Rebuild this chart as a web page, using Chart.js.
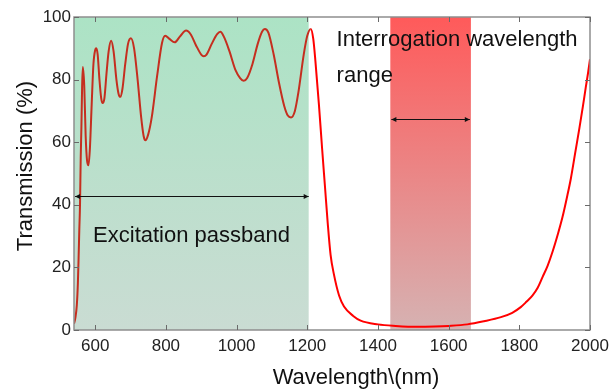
<!DOCTYPE html>
<html><head><meta charset="utf-8">
<script src="https://cdn.jsdelivr.net/npm/chart.js@4.4.1/dist/chart.umd.min.js"></script>
<style>html,body{margin:0;padding:0;background:#fff;overflow:hidden}#wrap{width:609px;height:391px;position:relative}</style>
</head><body><div id="wrap"><canvas id="c" width="609" height="391"></canvas></div>
<script>
const wavelength = [540,544,548,551,553,555,557,559,561,563,565,569,573,577,581,585,590,595,600,603,607,612,617,621,626,632,638,645,652,660,666,671,677,685,693,701,710,720,730,737,742,750,760,775,789,798,810,825,840,857,870,885,900,907,915,930,945,954,965,980,997,1010,1020,1030,1045,1060,1072,1080,1090,1105,1120,1135,1145,1154,1165,1175,1190,1200,1210,1217,1223,1233,1242,1250,1258,1266,1275,1290,1304,1330,1351,1400,1450,1511,1560,1600,1653,1700,1748,1780,1804,1820,1837,1852,1866,1880,1894,1910,1922,1935,1946,1958,1970,1980,1988,1995,2000];
const transmission = [2,4,8,15,23,32,40,55,65,78,84,78,62,54,52.6,58,72,85,89.5,90,88,80,74,72.5,74,82,89,92.4,89,80,75.5,74.5,77,85,91.5,93.2,90,80,68,62,60.6,62.5,68,81,91.7,94,93,91.9,93.8,95.7,94.5,91,88,87.5,88,91.5,94.5,95.3,93.5,89,83,80.5,79.6,80.5,85,91.5,95.3,96.2,95,88,79,71.5,68.5,67.9,70,76,88,94,96.2,93,86,72,58,46,34,24,18,11,7.5,4.5,3,1.8,1.3,1,1.1,1.3,1.8,2.8,4.1,5.5,7.3,9,11,13.5,17,20.5,25,31,36,42.5,48.5,56.5,64.5,71.5,77.5,82.5,86.5];
const xTicks = [600,800,1000,1200,1400,1600,1800,2000];
const yTicks = [0,20,40,60,80,100];
const xTitle = 'Wavelength\\(nm)';
const yTitle = 'Transmission (%)';
const passbandRange = [540,1204];
const interrogationRange = [1435,1663];
const passbandArrow = [543,1204,42.7];
const interrogationArrow = [1438,1660,67.4];
const passbandLabel = 'Excitation passband';
const interrogationLabel = ['Interrogation wavelength','range'];

const FONT = '"Liberation Sans", Arial, sans-serif';

function arrow(ctx, xa, xb, yy){
  ctx.strokeStyle = '#111'; ctx.fillStyle = '#111'; ctx.lineWidth = 1;
  ctx.beginPath(); ctx.moveTo(xa, yy+0.5); ctx.lineTo(xb, yy+0.5); ctx.stroke();
  const h = 5, w = 2.5;
  ctx.beginPath(); ctx.moveTo(xa, yy+0.5); ctx.lineTo(xa+h, yy+0.5-w); ctx.lineTo(xa+h, yy+0.5+w); ctx.closePath(); ctx.fill();
  ctx.beginPath(); ctx.moveTo(xb, yy+0.5); ctx.lineTo(xb-h, yy+0.5-w); ctx.lineTo(xb-h, yy+0.5+w); ctx.closePath(); ctx.fill();
}

const overlay = {
  id: 'overlay',
  beforeDatasetsDraw(chart){
    const {ctx, chartArea: a, scales: {x}} = chart;
    ctx.save();
    const g = ctx.createLinearGradient(0, a.top, 0, a.bottom);
    g.addColorStop(0, '#ace3c5'); g.addColorStop(1, '#cadcd3');
    ctx.fillStyle = g;
    const g0 = x.getPixelForValue(passbandRange[0]), g1 = x.getPixelForValue(passbandRange[1]);
    ctx.fillRect(g0, a.top, g1 - g0, a.bottom - a.top);
    const r = ctx.createLinearGradient(0, a.top, 0, a.bottom);
    r.addColorStop(0, '#ff5a5a'); r.addColorStop(1, '#d6b2b2');
    ctx.fillStyle = r;
    const r0 = x.getPixelForValue(interrogationRange[0]), r1 = x.getPixelForValue(interrogationRange[1]);
    ctx.fillRect(r0, a.top, r1 - r0, a.bottom - a.top);
    ctx.restore();
  },
  afterDatasetsDraw(chart){
    const {ctx, chartArea: a, scales: {x, y}} = chart;
    ctx.save();
    ctx.strokeStyle = '#8e8e8e'; ctx.lineWidth = 1.5;
    ctx.strokeRect(a.left, a.top, a.right - a.left, a.bottom - a.top);
    ctx.strokeStyle = '#6a6a6a'; ctx.lineWidth = 1;
    ctx.beginPath();
    xTicks.forEach(v => {
      const px = Math.round(x.getPixelForValue(v)) + 0.5;
      ctx.moveTo(px, a.bottom); ctx.lineTo(px, a.bottom - 5);
      ctx.moveTo(px, a.top); ctx.lineTo(px, a.top + 5);
    });
    yTicks.forEach(v => {
      const py = Math.round(y.getPixelForValue(v)) + 0.5;
      ctx.moveTo(a.left, py); ctx.lineTo(a.left + 5, py);
      ctx.moveTo(a.right, py); ctx.lineTo(a.right - 5, py);
    });
    ctx.stroke();
    arrow(ctx, x.getPixelForValue(passbandArrow[0]), x.getPixelForValue(passbandArrow[1]), Math.round(y.getPixelForValue(passbandArrow[2])));
    arrow(ctx, x.getPixelForValue(interrogationArrow[0]), x.getPixelForValue(interrogationArrow[1]), Math.round(y.getPixelForValue(interrogationArrow[2])));
    ctx.fillStyle = '#111';
    ctx.font = '22px ' + FONT;
    ctx.textAlign = 'left'; ctx.textBaseline = 'alphabetic';
    ctx.fillText(passbandLabel, x.getPixelForValue(594), y.getPixelForValue(28));
    ctx.fillText(interrogationLabel[0], x.getPixelForValue(1283), y.getPixelForValue(90.8));
    ctx.fillText(interrogationLabel[1], x.getPixelForValue(1283), y.getPixelForValue(79.3));
    ctx.textAlign = 'center';
    ctx.fillText(xTitle, 356, 384);
    ctx.translate(32, 166);
    ctx.rotate(-Math.PI / 2);
    ctx.fillText(yTitle, 0, 0);
    ctx.restore();
  }
};

const points = wavelength.map((w, i) => ({x: w, y: transmission[i]}));

new Chart(document.getElementById('c'), {
  type: 'line',
  data: { datasets: [{
    data: points,
    borderColor: '#ff0000',
    borderWidth: 2,
    pointRadius: 0,
    cubicInterpolationMode: 'monotone',
    fill: false,
    segment: { borderColor: c => (c.p0.parsed.x < 1206 ? '#c52e1f' : '#ff0000') }
  }]},
  options: {
    responsive: false,
    animation: false,
    devicePixelRatio: 1,
    layout: { padding: { left: 0, right: 19, top: 17, bottom: 0 } },
    plugins: { legend: { display: false }, tooltip: { enabled: false } },
    scales: {
      x: {
        type: 'linear', min: 540, max: 2000,
        afterBuildTicks: s => { s.ticks = xTicks.map(v => ({value: v})); },
        afterFit: s => { s.height = 61; s.paddingLeft = 0; s.paddingRight = 0; },
        grid: { display: false, drawTicks: false }, border: { display: false },
        ticks: { color: '#222', font: { family: FONT, size: 17 }, padding: 6, maxRotation: 0, autoSkip: false, callback: v => String(v) }
      },
      y: {
        type: 'linear', min: 0, max: 100,
        afterBuildTicks: s => { s.ticks = yTicks.map(v => ({value: v})); },
        afterFit: s => { s.width = 74; s.paddingTop = 0; s.paddingBottom = 0; },
        grid: { display: false, drawTicks: false }, border: { display: false },
        ticks: { color: '#222', font: { family: FONT, size: 17 }, padding: 3, callback: v => String(v) }
      }
    }
  },
  plugins: [overlay]
});
</script></body></html>
